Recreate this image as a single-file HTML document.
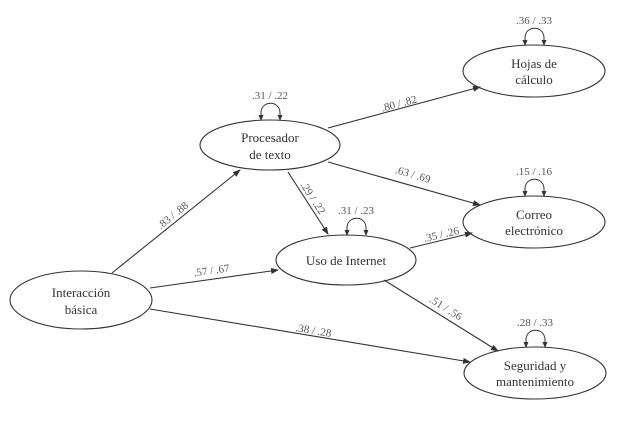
<!DOCTYPE html>
<html><head><meta charset="utf-8"><style>body{margin:0;background:#fff}svg{display:block}</style></head><body>
<svg width="642" height="436" viewBox="0 0 642 436" xmlns="http://www.w3.org/2000/svg" font-family="Liberation Serif, serif" fill="none" stroke="#333">
<defs>
<marker id="a" markerWidth="8" markerHeight="6" refX="7" refY="3" orient="auto" markerUnits="userSpaceOnUse"><path d="M0,0 L8,3 L0,6 z" fill="#333" stroke="none"/></marker>
<marker id="b" markerWidth="6" markerHeight="5" refX="5" refY="2.5" orient="auto-start-reverse" markerUnits="userSpaceOnUse"><path d="M0,0 L6,2.5 L0,5 z" fill="#333" stroke="none"/></marker>
</defs>
<g stroke-width="1.1">
<ellipse cx="81" cy="300" rx="71" ry="29"/>
<ellipse cx="270" cy="145" rx="70" ry="25"/>
<ellipse cx="346" cy="260" rx="70" ry="25"/>
<ellipse cx="534" cy="71" rx="71" ry="26"/>
<ellipse cx="534" cy="222" rx="71" ry="26"/>
<ellipse cx="535" cy="373" rx="71" ry="26"/>
<g marker-end="url(#a)">
<line x1="112" y1="273" x2="240" y2="170"/>
<line x1="150" y1="288" x2="278" y2="270"/>
<line x1="150" y1="309" x2="470" y2="362"/>
<line x1="328" y1="128" x2="480" y2="87"/>
<line x1="328" y1="162" x2="480" y2="205"/>
<line x1="288" y1="172" x2="328" y2="234"/>
<line x1="410" y1="248" x2="472" y2="233"/>
<line x1="384" y1="280" x2="498" y2="351"/>
</g>
<g marker-start="url(#b)" marker-end="url(#b)" stroke-width="1">
<path d="M261,120 L261,113 C261,100 280,100 280,113 L280,120"/>
<path d="M347,235 L347,228 C347,215 366,215 366,228 L366,235"/>
<path d="M525,45 L525,38 C525,25 544,25 544,38 L544,45"/>
<path d="M525,196 L525,189 C525,176 544,176 544,189 L544,196"/>
<path d="M526,347 L526,340 C526,327 545,327 545,340 L545,347"/>
</g></g>
<g fill="#333" stroke="none" font-size="13" text-anchor="middle">
<text x="81" y="297">Interacción</text><text x="81" y="314">básica</text>
<text x="270" y="142">Procesador</text><text x="270" y="159">de texto</text>
<text x="346" y="265">Uso de Internet</text>
<text x="534" y="68">Hojas de</text><text x="534" y="84">cálculo</text>
<text x="534" y="219">Correo</text><text x="534" y="235">electrónico</text>
<text x="535" y="370">Seguridad y</text><text x="535" y="386">mantenimiento</text>
</g>
<g fill="#555" stroke="none" font-size="11" text-anchor="middle">
<text x="270" y="99">.31 / .22</text>
<text x="356" y="214">.31 / .23</text>
<text x="534" y="24">.36 / .33</text>
<text x="534" y="175">.15 / .16</text>
<text x="535" y="326">.28 / .33</text>
<text transform="translate(175,218) rotate(-39)">.83 / .88</text>
<text transform="translate(212,274) rotate(-8)">.57 / .67</text>
<text transform="translate(313,334) rotate(9.4)">.38 / .28</text>
<text transform="translate(400,107) rotate(-15)">.80 / .82</text>
<text transform="translate(412,178) rotate(16)">.63 / .69</text>
<text transform="translate(310,200) rotate(57)">.29 / .22</text>
<text transform="translate(442,238) rotate(-13)">.35 / .26</text>
<text transform="translate(444,311) rotate(32)">.51 / .56</text>
</g>
</svg>
</body></html>
